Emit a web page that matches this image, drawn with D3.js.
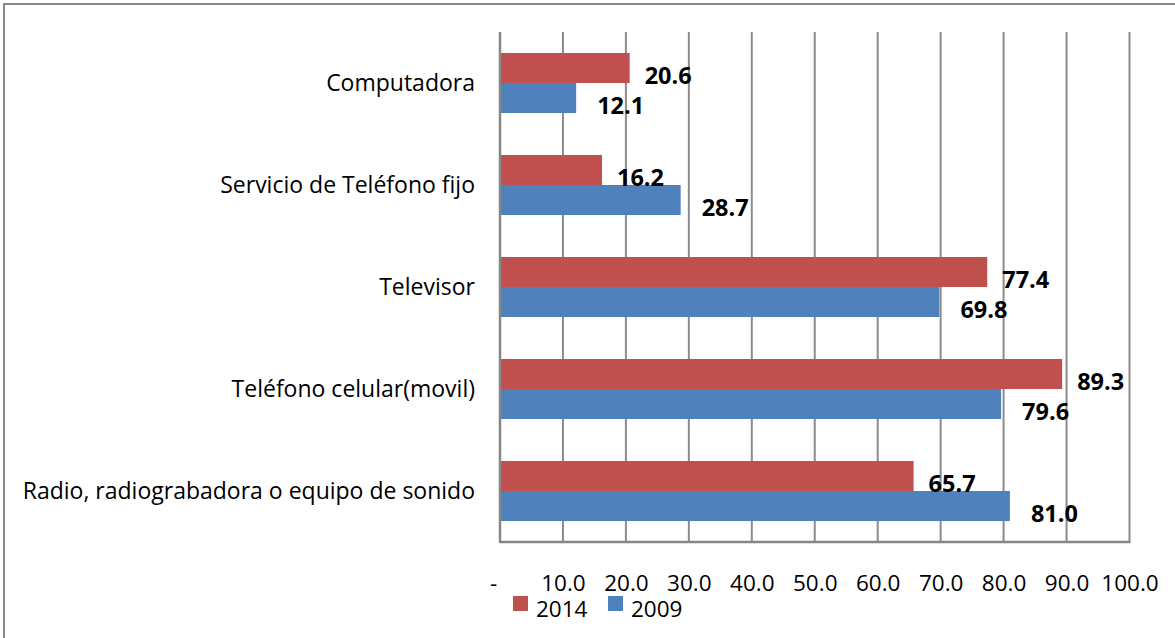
<!DOCTYPE html>
<html>
<head>
<meta charset="utf-8">
<script src="https://cdn.jsdelivr.net/npm/d3@7"></script>
<style>
  html, body { margin: 0; padding: 0; background: #fff; }
  svg { display: block; }
</style>
</head>
<body>
<svg id="chart" width="1175" height="638"></svg>
<script>
// Tenencia de bienes y servicios en el hogar (%), 2014 vs 2009
const categories = [
  "Computadora",
  "Servicio de Teléfono fijo ",
  "Televisor",
  "Teléfono celular(movil)",
  "Radio, radiograbadora o equipo de sonido"
];
const values2014 = [20.6, 16.2, 77.4, 89.3, 65.7];
const values2009 = [12.1, 28.7, 69.8, 79.6, 81.0];
const seriesNames = ["2014", "2009"];
const seriesColors = ["#C0504D", "#4F81BD"];
const tickValues = [0, 10, 20, 30, 40, 50, 60, 70, 80, 90, 100];

const series = [values2014, values2009];

const svg = d3.select("#chart");
const font = "'Open Sans', Lato, sans-serif";

// chart frame
svg.append("rect")
  .attr("x", 4).attr("y", 4)
  .attr("width", 1190).attr("height", 660)
  .attr("fill", "#fff")
  .attr("stroke", "#8a8a8a")
  .attr("stroke-width", 2);

const plot = { left: 500, right: 1129.5, top: 32, bottom: 542 };

const x = d3.scaleLinear().domain([0, 100]).range([plot.left, plot.right]);
const y = d3.scaleBand().domain(categories).range([plot.top, plot.bottom]).paddingInner(0).paddingOuter(0);
const barH = 30;

// vertical gridlines
svg.append("g")
  .selectAll("line")
  .data(tickValues.slice(1))
  .join("line")
  .attr("x1", d => x(d)).attr("x2", d => x(d))
  .attr("y1", plot.top).attr("y2", plot.bottom)
  .attr("stroke", "#8c8c8c")
  .attr("stroke-width", 2);

// bars
series.forEach((vals, si) => {
  svg.append("g")
    .selectAll("rect")
    .data(vals)
    .join("rect")
    .attr("x", x(0))
    .attr("y", (d, i) => y(categories[i]) + y.bandwidth() / 2 - barH + si * barH)
    .attr("width", d => x(d) - x(0))
    .attr("height", barH)
    .attr("fill", seriesColors[si]);
});

// value labels
const labelDx = [15, 21];
series.forEach((vals, si) => {
  svg.append("g")
    .selectAll("text")
    .data(vals)
    .join("text")
    .attr("x", d => x(d) + labelDx[si])
    .attr("y", (d, i) => y(categories[i]) + y.bandwidth() / 2 - barH + si * barH + barH / 2 + 16)
    .attr("font-family", font)
    .attr("font-weight", "bold")
    .attr("font-size", 23.5)
    .attr("fill", "#000")
    .text(d => d.toFixed(1));
});

// axes lines
svg.append("line")
  .attr("x1", plot.left).attr("x2", plot.left)
  .attr("y1", plot.top).attr("y2", plot.bottom + 1)
  .attr("stroke", "#868686").attr("stroke-width", 2.5);
svg.append("line")
  .attr("x1", plot.left).attr("x2", plot.right + 1)
  .attr("y1", plot.bottom).attr("y2", plot.bottom)
  .attr("stroke", "#868686").attr("stroke-width", 2.5);

// category axis
const yAxis = d3.axisLeft(y).tickSize(0).tickPadding(25);
const gy = svg.append("g")
  .attr("transform", `translate(${plot.left},0)`)
  .call(yAxis);
gy.select(".domain").remove();
gy.selectAll("text")
  .attr("font-family", font)
  .attr("font-size", 23)
  .attr("fill", "#000")
  .attr("dy", "0.35em");

// value axis
const xAxis = d3.axisBottom(x)
  .tickValues(tickValues)
  .tickSize(0)
  .tickPadding(0)
  .tickFormat(d => d === 0 ? "-" : d.toFixed(1));
const gx = svg.append("g")
  .attr("transform", `translate(0,${plot.bottom})`)
  .call(xAxis);
gx.select(".domain").remove();
gx.selectAll("text")
  .attr("font-family", font)
  .attr("font-size", 22.5)
  .attr("fill", "#000")
  .attr("y", 49)
  .attr("dy", 0)
  .attr("dx", d => d === 0 ? -7 : 0);

// legend
const legend = svg.append("g").attr("transform", "translate(513,596)");
const legendItems = legend.selectAll("g")
  .data(seriesNames)
  .join("g")
  .attr("transform", (d, i) => `translate(${i * 95},0)`);
legendItems.append("rect")
  .attr("width", 15).attr("height", 15)
  .attr("fill", (d, i) => seriesColors[i]);
legendItems.append("text")
  .attr("x", 23).attr("y", 21)
  .attr("font-family", font)
  .attr("font-size", 22.5)
  .attr("fill", "#000")
  .text(d => d);
</script>
</body>
</html>
